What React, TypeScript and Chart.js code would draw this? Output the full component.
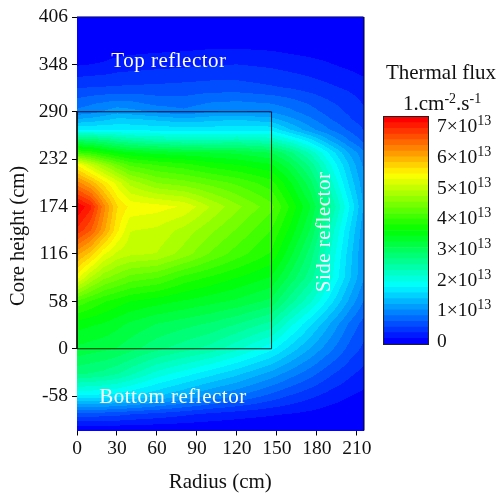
import React, { useEffect, useRef } from "react";
import { Chart, registerables } from "chart.js";

Chart.register(...registerables);

const FONT = "'Liberation Serif', serif";

const radii = [0, 10, 20, 30, 40, 60, 80, 100, 120, 146, 160, 175, 190, 205, 215];
const heights = [406, 380, 348, 320, 300, 290, 280, 268, 255, 240, 225, 203, 174, 145, 116, 87, 58, 30, 0, -30, -58, -80, -100];

const flux406 = [0, 0, 0, 0, 0, 0, 0, 0, 0, 0, 0, 0, 0, 0, 0];
const flux380 = [0, 0, 0, 0, 0.02, 0.03, 0.04, 0.06, 0.06, 0.05, 0.03, 0.02, 0.01, 0, 0];
const flux348 = [0.16, 0.18, 0.2, 0.25, 0.27, 0.3, 0.32, 0.35, 0.36, 0.32, 0.28, 0.24, 0.19, 0.13, 0.08];
const flux320 = [0.52, 0.54, 0.55, 0.56, 0.57, 0.58, 0.6, 0.62, 0.62, 0.56, 0.52, 0.46, 0.39, 0.32, 0.27];
const flux300 = [0.82, 0.88, 0.93, 0.98, 0.96, 0.85, 0.82, 0.92, 0.95, 0.9, 0.82, 0.7, 0.57, 0.45, 0.35];
const flux290 = [0.95, 1.0, 1.1, 1.2, 1.15, 1.05, 0.95, 1.08, 1.1, 1.05, 0.95, 0.8, 0.64, 0.5, 0.4];
const flux280 = [1.3, 1.35, 1.42, 1.5, 1.5, 1.42, 1.35, 1.4, 1.45, 1.35, 1.15, 0.95, 0.74, 0.56, 0.46];
const flux268 = [1.8, 1.8, 1.8, 1.78, 1.76, 1.75, 1.72, 1.72, 1.75, 1.75, 1.45, 1.15, 0.9, 0.68, 0.54];
const flux255 = [2.9, 2.85, 2.75, 2.62, 2.52, 2.42, 2.35, 2.35, 2.4, 2.3, 2.05, 1.7, 1.25, 0.88, 0.68];
const flux240 = [4.0, 3.9, 3.7, 3.55, 3.45, 3.35, 3.3, 3.25, 3.2, 3.05, 2.75, 2.3, 1.75, 1.22, 0.95];
const flux225 = [5.4, 5.0, 4.65, 4.35, 4.1, 3.95, 3.85, 3.7, 3.6, 3.45, 3.1, 2.65, 2.0, 1.4, 1.05];
const flux203 = [6.2, 5.9, 5.5, 5.15, 4.8, 4.5, 4.4, 4.25, 4.1, 3.85, 3.45, 2.95, 2.25, 1.55, 1.15];
const flux174 = [7.2, 6.9, 6.2, 5.6, 5.35, 5.3, 5.2, 4.85, 4.55, 4.2, 3.75, 3.25, 2.55, 1.78, 1.25];
const flux145 = [6.8, 6.5, 6.0, 5.45, 5.05, 5.0, 4.8, 4.55, 4.3, 3.95, 3.55, 3.05, 2.3, 1.6, 1.15];
const flux116 = [6.0, 5.7, 5.25, 5.0, 4.9, 4.85, 4.6, 4.3, 4.05, 3.75, 3.3, 2.8, 2.15, 1.5, 1.1];
const flux87 = [5.3, 4.85, 4.55, 4.4, 4.25, 4.15, 3.9, 3.75, 3.6, 3.4, 3.0, 2.6, 2.05, 1.45, 1.1];
const flux58 = [4.1, 3.95, 3.8, 3.7, 3.6, 3.5, 3.4, 3.3, 3.2, 3.0, 2.6, 2.2, 1.7, 1.2, 0.9];
const flux30 = [3.5, 3.45, 3.4, 3.3, 3.2, 3.05, 2.95, 2.85, 2.7, 2.45, 2.05, 1.65, 1.25, 0.85, 0.65];
const flux0 = [3.2, 3.15, 3.1, 3.05, 2.95, 2.75, 2.6, 2.45, 2.2, 1.85, 1.55, 1.25, 0.95, 0.65, 0.5];
const fluxM30 = [2.75, 2.7, 2.65, 2.55, 2.4, 2.1, 1.9, 1.7, 1.5, 1.2, 1.0, 0.8, 0.58, 0.4, 0.3];
const fluxM58 = [1.75, 1.75, 1.72, 1.7, 1.62, 1.45, 1.25, 1.05, 0.9, 0.65, 0.52, 0.4, 0.28, 0.18, 0.13];
const fluxM80 = [0.65, 0.65, 0.62, 0.6, 0.55, 0.48, 0.4, 0.32, 0.26, 0.2, 0.17, 0.13, 0.08, 0.04, 0.02];
const fluxM100 = [0, 0, 0, 0, 0, 0, 0, 0, 0, 0, 0, 0, 0, 0, 0];

const fluxTable = [flux406, flux380, flux348, flux320, flux300, flux290, flux280, flux268, flux255, flux240, flux225, flux203, flux174, flux145, flux116, flux87, flux58, flux30, flux0, fluxM30, fluxM58, fluxM80, fluxM100];

const coreRadius = [0, 146, 146, 0, 0];
const coreHeight = [0, 0, 290, 290, 0];
const radiusTicks = [0, 30, 60, 90, 120, 150, 180, 210];
const heightTicks = [-58, 0, 58, 116, 174, 232, 290, 348, 406];
const fluxTicks = [0, 1, 2, 3, 4, 5, 6, 7];
const regionLabels = ["Top reflector", "Bottom reflector", "Side reflector"];
const regionRadius = [69, 72, 186];
const regionHeight = [352, -60, 143];
const regionAngle = [0, 0, -90];

const BAND_COUNT = 40;
const FLUX_MAX = 7.2;

function bandColour(band: number): [number, number, number] {
  const t = band / (BAND_COUNT - 1);
  if (t < 0.25) return [0, Math.round(1020 * t), 255];
  if (t < 0.5) return [0, 255, Math.round(255 * (1 - (t - 0.25) * 4))];
  if (t < 0.75) return [Math.round(255 * (t - 0.5) * 4), 255, 0];
  return [255, Math.round(255 * (1 - (t - 0.75) * 4)), 0];
}

function locate(list: number[], v: number): [number, number] {
  const descending = list[0] > list[list.length - 1];
  for (let i = 0; i < list.length - 1; i++) {
    const a = list[i];
    const b = list[i + 1];
    if (descending ? v >= b && v <= a : v >= a && v <= b) return [i, (v - a) / (b - a)];
  }
  return descending
    ? (v > list[0] ? [0, 0] : [list.length - 2, 1])
    : (v < list[0] ? [0, 0] : [list.length - 2, 1]);
}

const fieldPlugin = {
  id: "field",
  beforeDatasetsDraw(chart: any) {
    const { ctx, chartArea: a, scales } = chart;
    const w = Math.round(a.right - a.left);
    const h = Math.round(a.bottom - a.top);
    const img = ctx.createImageData(w, h);
    for (let py = 0; py < h; py++) {
      const [j, fz] = locate(heights, scales.y.getValueForPixel(a.top + py + 0.5));
      for (let px = 0; px < w; px++) {
        const [i, fr] = locate(radii, scales.x.getValueForPixel(a.left + px + 0.5));
        const v =
          fluxTable[j][i] * (1 - fr) * (1 - fz) +
          fluxTable[j][i + 1] * fr * (1 - fz) +
          fluxTable[j + 1][i] * (1 - fr) * fz +
          fluxTable[j + 1][i + 1] * fr * fz;
        const band = Math.max(0, Math.min(BAND_COUNT - 1, Math.floor((v / FLUX_MAX) * BAND_COUNT)));
        const c = bandColour(band);
        const k = (py * w + px) * 4;
        img.data[k] = c[0];
        img.data[k + 1] = c[1];
        img.data[k + 2] = c[2];
        img.data[k + 3] = 255;
      }
    }
    ctx.putImageData(img, Math.round(a.left), Math.round(a.top));
  },
  afterDatasetsDraw(chart: any) {
    const { ctx, chartArea: a, scales } = chart;
    ctx.save();
    ctx.strokeStyle = "#000";
    ctx.lineWidth = 1;
    ctx.beginPath();
    ctx.moveTo(a.right + 0.5, a.top);
    ctx.lineTo(a.right + 0.5, a.bottom);
    ctx.stroke();
    ctx.strokeStyle = "#777";
    ctx.beginPath();
    ctx.moveTo(a.left, a.top - 0.5);
    ctx.lineTo(a.right, a.top - 0.5);
    ctx.stroke();
    ctx.textAlign = "center";
    ctx.textBaseline = "middle";
    ctx.save();
    ctx.fillStyle = "#111";
    ctx.font = `20.5px ${FONT}`;
    ctx.translate(19, 236);
    ctx.rotate(-Math.PI / 2);
    ctx.fillText("Core height (cm)", 0, 0);
    ctx.restore();
    ctx.fillStyle = "#fff";
    ctx.font = `21px ${FONT}`;
    (ctx as any).letterSpacing = "0.5px";
    regionLabels.forEach((label, i) => {
      ctx.save();
      ctx.translate(scales.x.getPixelForValue(regionRadius[i]), scales.y.getPixelForValue(regionHeight[i]));
      ctx.rotate((regionAngle[i] * Math.PI) / 180);
      ctx.fillText(label, 0, 0);
      ctx.restore();
    });
    ctx.restore();
  },
};

const barTextPlugin = {
  id: "barText",
  afterDraw(chart: any) {
    const { ctx, scales } = chart;
    ctx.save();
    ctx.fillStyle = "#111";
    ctx.textBaseline = "alphabetic";
    ctx.font = `21px ${FONT}`;
    ctx.textAlign = "center";
    ctx.fillText("Thermal flux", 441, 79);
    ctx.textAlign = "left";
    const parts: [string, boolean][] = [["1.cm", false], ["-2", true], [".s", false], ["-1", true]];
    let x = 403;
    parts.forEach(([text, sup]) => {
      ctx.font = sup ? `14px ${FONT}` : `21px ${FONT}`;
      ctx.fillText(text, x, sup ? 103 : 110);
      x += ctx.measureText(text).width;
    });
    fluxTicks.forEach((tick) => {
      const y = scales.y.getPixelForValue(tick) + 6;
      ctx.font = `19.5px ${FONT}`;
      if (tick === 0) {
        ctx.fillText("0", 437, y);
        return;
      }
      const mantissa = `${tick}×10`;
      ctx.fillText(mantissa, 437, y);
      const w = ctx.measureText(mantissa).width;
      ctx.font = `14px ${FONT}`;
      ctx.fillText("13", 437 + w, y - 7);
    });
    ctx.restore();
  },
};

export default function App() {
  const mainRef = useRef<HTMLCanvasElement>(null);
  const barRef = useRef<HTMLCanvasElement>(null);

  useEffect(() => {
    const tickFont = { family: FONT, size: 19.5 };
    const titleFont = { family: FONT, size: 21 };
    const main = new Chart(mainRef.current!, {
      type: "scatter",
      data: {
        datasets: [
          {
            label: "Core",
            data: coreRadius.map((r, i) => ({ x: r, y: coreHeight[i] })),
            showLine: true,
            borderColor: "rgba(0,0,0,0.85)",
            borderWidth: 1,
            pointRadius: 0,
            clip: false,
          },
        ],
      },
      options: {
        animation: false,
        responsive: false,
        layout: { padding: { top: 17, right: 136.5, left: 0, bottom: 0 } },
        plugins: { legend: { display: false }, tooltip: { enabled: false } },
        scales: {
          x: {
            type: "linear",
            min: 0,
            max: 215,
            afterBuildTicks: (s: any) => { s.ticks = radiusTicks.map((value) => ({ value })); },
            afterFit: (s: any) => { s.height = 66.5; },
            grid: { drawOnChartArea: false, drawTicks: true, tickLength: 5, color: "#000" },
            border: { color: "#000" },
            ticks: { font: tickFont, color: "#111", maxRotation: 0, padding: 2, autoSkip: false },
            title: { display: true, text: "Radius (cm)", font: titleFont, color: "#111", padding: { top: 10, bottom: 2 } },
          },
          y: {
            type: "linear",
            min: -100,
            max: 406,
            afterBuildTicks: (s: any) => { s.ticks = heightTicks.map((value) => ({ value })); },
            afterFit: (s: any) => { s.width = 77; },
            grid: { drawOnChartArea: false, drawTicks: true, tickLength: 5, color: "#000" },
            border: { color: "#000" },
            ticks: { font: tickFont, color: "#111", padding: 4, autoSkip: false },
          },
        },
      },
      plugins: [fieldPlugin],
    } as any);

    const bandEdges = Array.from({ length: BAND_COUNT }, (_, i) => i);
    const bar = new Chart(barRef.current!, {
      type: "bar",
      data: {
        labels: ["flux"],
        datasets: bandEdges.map((i) => {
          const c = bandColour(i);
          const step = 7.4 / BAND_COUNT;
          return {
            label: `band ${i}`,
            data: [[-0.1 + i * step, -0.1 + (i + 1) * step]],
            backgroundColor: `rgb(${c[0]},${c[1]},${c[2]})`,
            borderWidth: 0,
            barPercentage: 1,
            categoryPercentage: 1,
            grouped: false,
          };
        }),
      },
      options: {
        animation: false,
        responsive: false,
        layout: { padding: { top: 117, bottom: 153, left: 384, right: 0 } },
        plugins: { legend: { display: false }, tooltip: { enabled: false } },
        scales: {
          x: { display: false },
          y: {
            position: "right",
            min: -0.1,
            max: 7.3,
            afterBuildTicks: (s: any) => { s.ticks = fluxTicks.map((value) => ({ value })); },
            afterFit: (s: any) => { s.width = 72; },
            grid: { display: false },
            border: { display: false },
            ticks: { display: false },
          },
        },
      },
      plugins: [
        barTextPlugin,
        {
          id: "barFrame",
          afterDatasetsDraw(chart: any) {
            const { ctx, chartArea: a } = chart;
            ctx.save();
            ctx.strokeStyle = "#222";
            ctx.lineWidth = 1;
            ctx.strokeRect(a.left - 0.5, a.top - 0.5, a.right - a.left + 1, a.bottom - a.top + 1);
            ctx.restore();
          },
        },
      ],
    } as any);

    return () => {
      main.destroy();
      bar.destroy();
    };
  }, []);

  const style: React.CSSProperties = { position: "absolute", left: 0, top: 0, width: 500, height: 497 };
  return (
    <div style={{ position: "absolute", left: 0, top: 0, width: 500, height: 497, background: "#fff" }}>
      <canvas ref={mainRef} width={500} height={497} style={style} />
      <canvas ref={barRef} width={500} height={497} style={style} />
    </div>
  );
}
